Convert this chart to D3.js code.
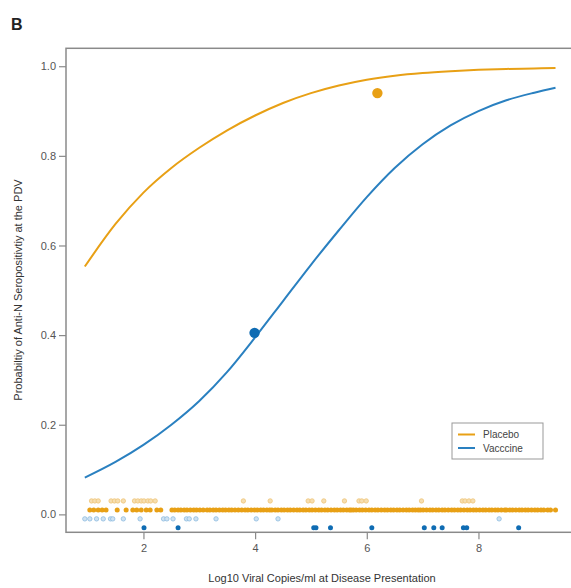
<!DOCTYPE html>
<html>
<head>
<meta charset="utf-8">
<script src="https://cdn.jsdelivr.net/npm/d3@7"></script>
<style>
  body { margin: 0; background: #fff; }
  text { font-family: "Liberation Sans", Arial, sans-serif; }
</style>
</head>
<body>
<div id="chart"></div>
<script>
// curve points (x = log10 copies/ml, y = probability)
var curveX = [0.95, 1.5, 2.0, 2.5, 3.0, 3.5, 4.0, 4.5, 5.0, 5.5, 6.0, 6.5, 7.0, 7.5, 8.0, 8.5, 9.0, 9.38];
var placeboCurve = [0.553, 0.648, 0.718, 0.773, 0.818, 0.857, 0.89, 0.918, 0.94, 0.957, 0.97, 0.979, 0.985, 0.989, 0.992, 0.994, 0.995, 0.996];
var vaccineCurve = [0.082, 0.117, 0.155, 0.2, 0.253, 0.318, 0.395, 0.476, 0.557, 0.634, 0.708, 0.773, 0.826, 0.868, 0.9, 0.924, 0.941, 0.952];

// big summary dots
var placeboDot = [6.19, 0.94];
var vaccineDot = [3.99, 0.405];

// rug rows
var placeboPos = [1.07, 1.13, 1.19, 1.42, 1.48, 1.54, 1.64, 1.84, 1.90, 1.96, 2.01, 2.08, 2.13, 2.21,
  3.79, 4.27, 4.95, 5.02, 5.23, 5.60, 5.86, 5.91, 5.99, 6.98, 7.71, 7.76, 7.83, 7.90];
var placeboNeg = [1.04, 1.11, 1.19, 1.26, 1.33, 1.53, 1.69, 1.81, 1.88, 1.96, 2.05, 2.12, 2.24, 2.31,
  2.51, 2.56, 2.62, 2.67, 2.73, 2.78, 2.84, 2.90, 2.95, 3.01, 3.07,
  3.14, 3.19, 3.25, 3.30, 3.36, 3.42, 3.47, 3.53, 3.58, 3.64, 3.70, 3.76, 3.82,
  3.87, 3.93, 3.99, 4.04, 4.10, 4.15, 4.21, 4.26, 4.30,
  4.36, 4.41, 4.47, 4.52, 4.58, 4.63, 4.69, 4.75, 4.80, 4.86, 4.91, 4.97, 5.02, 5.08, 5.14, 5.19,
  5.25, 5.30, 5.36, 5.42, 5.47, 5.53, 5.58, 5.64, 5.69, 5.72,
  5.76, 5.81, 5.87, 5.92, 5.98, 6.04, 6.09, 6.15, 6.20, 6.26, 6.32, 6.37, 6.43, 6.48, 6.54, 6.59,
  6.65, 6.71, 6.76, 6.82, 6.87, 6.92,
  6.96, 7.01, 7.07, 7.13, 7.18, 7.24, 7.29, 7.35, 7.40, 7.46, 7.52, 7.57, 7.63, 7.68, 7.74, 7.80,
  7.85, 7.91, 7.96, 8.02, 8.08, 8.13, 8.19, 8.24, 8.30, 8.35, 8.41, 8.47,
  8.50, 8.56, 8.61, 8.67, 8.73, 8.78, 8.84, 8.89, 8.95, 9.01, 9.06, 9.12, 9.17, 9.24, 9.29, 9.38];
var vaccineNeg = [0.95, 1.04, 1.16, 1.28, 1.41, 1.45, 1.64, 1.94, 2.36, 2.42, 2.53, 2.77, 2.82, 2.94,
  3.30, 4.02, 4.41, 8.37];
var vaccinePos = [2.01, 2.62, 5.05, 5.09, 5.35, 6.09, 7.03, 7.20, 7.35, 7.73, 7.79, 8.72];

var xTicks = [2, 4, 6, 8];
var yTicks = [0, 0.2, 0.4, 0.6, 0.8, 1.0];

var svgWidth = 571;
var svgHeight = 588;

var orange = "#e8a015";
var blue = "#2a80c0";
var darkBlue = "#0f6cb3";

var svg = d3.select("#chart")
  .append("svg")
  .attr("width", svgWidth)
  .attr("height", svgHeight);

var x = d3.scaleLinear().domain([0.613, 9.72]).range([66, 574.5]);
var y = d3.scaleLinear().domain([-0.04, 1.04]).range([532.3, 48.3]);

// panel letter
svg.append("text")
  .attr("x", 11)
  .attr("y", 30)
  .attr("font-size", "16px")
  .attr("font-weight", "bold")
  .attr("fill", "#222")
  .text("B");

// plot frame
svg.append("rect")
  .attr("x", 66)
  .attr("y", 48.3)
  .attr("width", 508.5)
  .attr("height", 484)
  .attr("fill", "none")
  .attr("stroke", "#8a8a8a")
  .attr("stroke-width", 1.5);

// axes
var xAxis = svg.append("g")
  .attr("transform", "translate(0,532.3)")
  .call(d3.axisBottom(x).tickValues(xTicks).tickSize(7).tickPadding(5).tickFormat(d3.format("d")));
var yAxis = svg.append("g")
  .attr("transform", "translate(66,0)")
  .call(d3.axisLeft(y).tickValues(yTicks).tickSize(7).tickPadding(3).tickFormat(d3.format(".1f")));

[xAxis, yAxis].forEach(function(a) {
  a.select(".domain").remove();
  a.selectAll("line").attr("stroke", "#8a8a8a").attr("stroke-width", 1.2);
  a.selectAll("text").attr("fill", "#555").attr("font-size", "11px")
    .style("font-family", "'Liberation Sans', Arial, sans-serif");
});

// axis titles
svg.append("text")
  .attr("x", 322)
  .attr("y", 582)
  .attr("text-anchor", "middle")
  .attr("font-size", "11px")
  .attr("fill", "#333")
  .text("Log10 Viral Copies/ml at Disease Presentation");

svg.append("text")
  .attr("transform", "translate(22,290) rotate(-90)")
  .attr("text-anchor", "middle")
  .attr("font-size", "11px")
  .attr("fill", "#333")
  .text("Probabiltiy of Anti-N Seropositivtiy at the PDV");

// fitted curves
var line = d3.line()
  .x(d => x(d[0]))
  .y(d => y(d[1]))
  .curve(d3.curveMonotoneX);

svg.append("path")
  .datum(curveX.map((v, i) => [v, placeboCurve[i]]))
  .attr("d", line)
  .attr("fill", "none")
  .attr("stroke", orange)
  .attr("stroke-width", 2);

svg.append("path")
  .datum(curveX.map((v, i) => [v, vaccineCurve[i]]))
  .attr("d", line)
  .attr("fill", "none")
  .attr("stroke", blue)
  .attr("stroke-width", 2);

// summary dots
svg.append("circle")
  .attr("cx", x(placeboDot[0]))
  .attr("cy", y(placeboDot[1]))
  .attr("r", 5.2)
  .attr("fill", orange);

svg.append("circle")
  .attr("cx", x(vaccineDot[0]))
  .attr("cy", y(vaccineDot[1]))
  .attr("r", 5.2)
  .attr("fill", darkBlue);

// rug rows
function rug(values, level, fill, stroke, r) {
  svg.append("g").selectAll("circle")
    .data(values)
    .enter()
    .append("circle")
    .attr("cx", d => x(d))
    .attr("cy", y(level))
    .attr("r", r)
    .attr("fill", fill)
    .attr("stroke", stroke)
    .attr("stroke-width", 0.8);
}

rug(placeboPos, 0.03, "#f6deb0", "#efc57a", 2.2);
rug(placeboNeg, 0.01, orange, "none", 2.5);
rug(vaccineNeg, -0.01, "#cfe2f2", "#8dbbe0", 2.2);
rug(vaccinePos, -0.03, darkBlue, "none", 2.5);

// legend
var legend = svg.append("g");
legend.append("rect")
  .attr("x", 452)
  .attr("y", 423)
  .attr("width", 91)
  .attr("height", 36)
  .attr("fill", "#fff")
  .attr("stroke", "#999")
  .attr("stroke-width", 1);

var legendItems = [["Placebo", orange], ["Vacccine", blue]];
legendItems.forEach(function(item, i) {
  var ly = 434.5 + i * 13.5;
  legend.append("line")
    .attr("x1", 458).attr("x2", 475)
    .attr("y1", ly).attr("y2", ly)
    .attr("stroke", item[1])
    .attr("stroke-width", 2);
  legend.append("text")
    .attr("x", 483)
    .attr("y", ly + 3.5)
    .attr("font-size", "10px")
    .attr("fill", "#444")
    .text(item[0]);
});
</script>
</body>
</html>
